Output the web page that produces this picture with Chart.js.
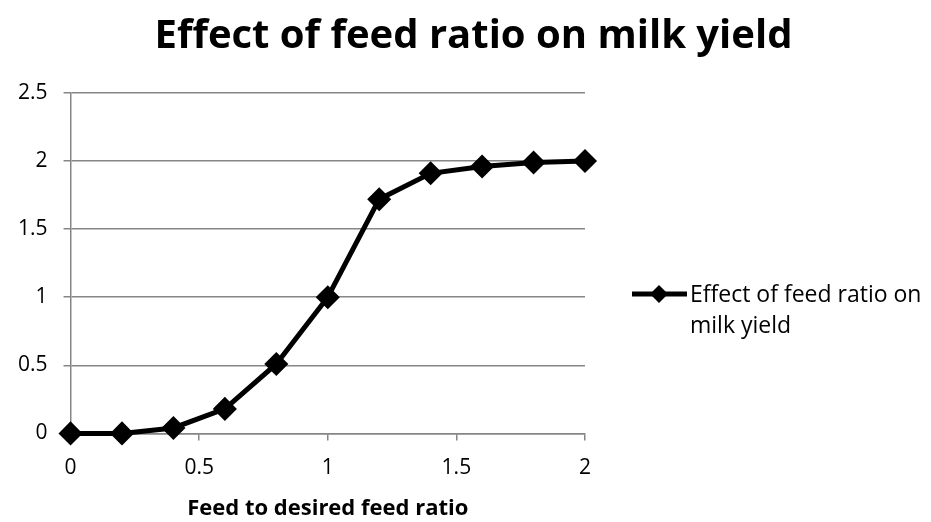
<!DOCTYPE html>
<html>
<head>
<meta charset="utf-8">
<script src="https://cdn.jsdelivr.net/npm/chart.js@4"></script>
<style>
  body { margin: 0; background: #fff; }
  #wrap { width: 931px; height: 522px; }
</style>
</head>
<body>
<div id="wrap"><canvas id="milkChart" width="931" height="522"></canvas></div>
<script>
const FEED_RATIO = [0, 0.2, 0.4, 0.6, 0.8, 1.0, 1.2, 1.4, 1.6, 1.8, 2.0];
const MILK_EFFECT = [0, 0, 0.04, 0.18, 0.51, 1.0, 1.72, 1.91, 1.96, 1.99, 2.0];
const SERIES_NAME = 'Effect of feed ratio on milk yield';
const LEGEND_LINES = ['Effect of feed ratio on', 'milk yield'];
const X_TITLE = 'Feed to desired feed ratio';

const FONT = '"Open Sans", Lato, sans-serif';
const GRID = '#868686';

// title and legend drawn by hand: title centred on the whole page,
// legend label wrapped on two lines like the original
const decorations = {
  id: 'decorations',
  afterDraw(chart) {
    const ctx = chart.ctx;
    const area = chart.chartArea;
    ctx.save();
    ctx.fillStyle = '#000';
    ctx.textAlign = 'center';
    ctx.textBaseline = 'alphabetic';
    ctx.font = 'bold 40px ' + FONT;
    ctx.fillText(SERIES_NAME, chart.width / 2 + 8, 48);

    const x0 = area.right + 47;
    const y0 = area.top + 201;
    ctx.strokeStyle = '#000';
    ctx.lineWidth = 5;
    ctx.beginPath();
    ctx.moveTo(x0, y0);
    ctx.lineTo(x0 + 55, y0);
    ctx.stroke();
    ctx.beginPath();
    ctx.moveTo(x0 + 27, y0 - 9);
    ctx.lineTo(x0 + 36, y0);
    ctx.lineTo(x0 + 27, y0 + 9);
    ctx.lineTo(x0 + 18, y0);
    ctx.closePath();
    ctx.fill();
    ctx.font = '23px ' + FONT;
    ctx.textAlign = 'left';
    ctx.textBaseline = 'alphabetic';
    LEGEND_LINES.forEach((t, i) => ctx.fillText(t, x0 + 58, y0 + 8 + i * 31));
    ctx.restore();
  }
};

const plainNum = v => String(v);

const ctx = document.getElementById('milkChart').getContext('2d');
new Chart(ctx, {
  type: 'line',
  data: {
    datasets: [{
      label: SERIES_NAME,
      data: FEED_RATIO.map((x, i) => ({ x: x, y: MILK_EFFECT[i] })),
      borderColor: '#000',
      backgroundColor: '#000',
      borderWidth: 5,
      pointStyle: 'rectRot',
      pointRadius: 8.5,
      pointHoverRadius: 8.5,
      tension: 0,
      clip: false
    }]
  },
  options: {
    responsive: false,
    animation: false,
    layout: { padding: { left: 2, right: 346, top: 93, bottom: 0 } },
    plugins: {
      legend: { display: false },
      tooltip: { enabled: false },
      title: { display: false }
    },
    scales: {
      x: {
        type: 'linear',
        min: 0,
        max: 2,
        ticks: { stepSize: 0.5, color: '#000', font: { family: FONT, size: 21 }, padding: 15, callback: plainNum },
        grid: { drawOnChartArea: false, color: GRID, tickLength: 7, lineWidth: 1.5 },
        border: { color: GRID, width: 1.5 },
        title: {
          display: true,
          text: X_TITLE,
          color: '#000',
          font: { family: FONT, size: 22, weight: 'bold' },
          padding: { top: 0, bottom: 0 }
        }
      },
      y: {
        min: 0,
        max: 2.5,
        ticks: { stepSize: 0.5, color: '#000', font: { family: FONT, size: 21 }, padding: 16, callback: plainNum },
        grid: { color: GRID, tickLength: 7, lineWidth: 1.5 },
        border: { color: GRID, width: 1.5 }
      }
    }
  },
  plugins: [decorations]
});
</script>
</body>
</html>
